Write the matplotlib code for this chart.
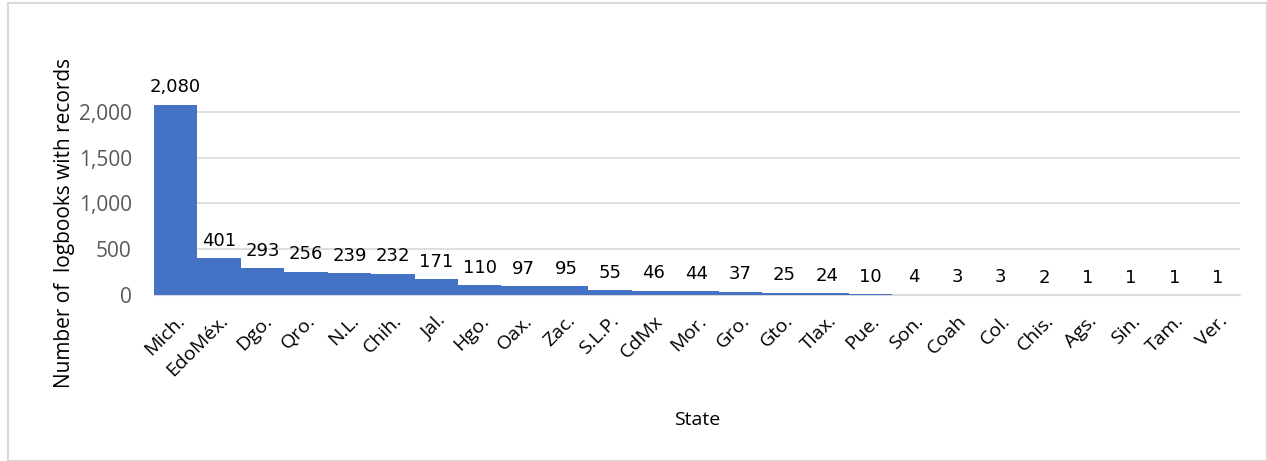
import numpy as np
import matplotlib.pyplot as plt

states = ['Mich.', 'EdoMéx.', 'Dgo.', 'Qro.', 'N.L.', 'Chih.', 'Jal.', 'Hgo.', 'Oax.',
          'Zac.', 'S.L.P.', 'CdMx', 'Mor.', 'Gro.', 'Gto.', 'Tlax.', 'Pue.', 'Son.',
          'Coah', 'Col.', 'Chis.', 'Ags.', 'Sin.', 'Tam.', 'Ver.']
counts = [2080, 401, 293, 256, 239, 232, 171, 110, 97, 95, 55, 46, 44, 37, 25, 24,
          10, 4, 3, 3, 2, 1, 1, 1, 1]
yticks = [0, 500, 1000, 1500, 2000]

fig = plt.figure(figsize=(12.67, 4.61), dpi=100)
# light frame around the chart
fig.patches.append(plt.Rectangle((0.006, 0.0), 0.994, 0.993, transform=fig.transFigure,
                                 fill=False, edgecolor='#d9d9d9', linewidth=1.5))
ax = fig.add_axes([0.1215, 0.36, 0.857, 0.437])

x = np.arange(len(states))
bars = ax.bar(x, counts, width=1.0, color='#4472C4', zorder=3)
for xi, c in zip(x, counts):
    ax.annotate(f'{c:,}', (xi, c), xytext=(0, 6), textcoords='offset points',
                ha='center', va='bottom', fontsize=13, family='DejaVu Sans', color='#000000')

ax.set_xlim(-0.5, len(states) - 0.5)
ax.set_ylim(0, 2200)
ax.set_yticks(yticks)
ax.set_yticklabels([f'{t:,}' for t in yticks], fontsize=15, family='Open Sans', color='#595959')
ax.set_xticks(x)
ax.set_xticklabels(states, rotation=45, ha='right', rotation_mode='anchor',
                   fontsize=14, family='Open Sans', color='#000000')
ax.tick_params(axis='y', length=0, pad=16)
ax.tick_params(axis='x', length=0, pad=12)
ax.grid(axis='y', color='#d9d9d9', linewidth=1.2, zorder=0)
for s in ['top', 'right', 'left']:
    ax.spines[s].set_visible(False)
ax.spines['bottom'].set_color('#d9d9d9')

ax.set_ylabel('Number of  logbooks with records', fontsize=15, family='Open Sans')
ax.yaxis.set_label_coords(-0.073, 0.36)
ax.set_xlabel('State', fontsize=14, family='Open Sans', labelpad=22)

fig.savefig('out.png', dpi=100)
